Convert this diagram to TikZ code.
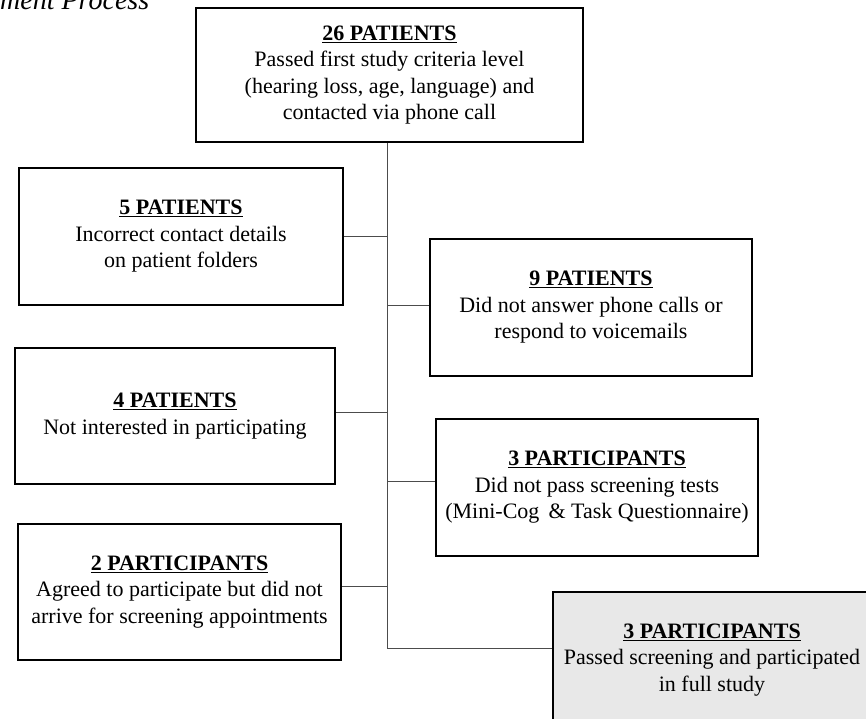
\documentclass[tikz,border=0pt]{standalone}
\usepackage{fontspec}
\setmainfont{Liberation Serif}
\newcommand\boxtitle[1]{\underline{\textbf{#1}}}
\begin{document}
\begin{tikzpicture}[x=1pt,y=-1pt,
  box/.style={draw=black, line width=2pt, align=center, inner sep=0pt,
    font=\fontsize{22}{26.5}\selectfont, minimum height=136pt},
  conn/.style={draw=black!70, line width=1pt}]
\useasboundingbox (0,0) rectangle (866,718);
\node[anchor=base west, inner sep=0pt, font=\itshape\fontsize{28}{32}\selectfont] (cap) at (0,9) {ment Process};
\node[box, minimum width=387pt, minimum height=134pt] (top) at (389.5,75)
  {\boxtitle{26 PATIENTS}\\Passed first study criteria level\\(hearing loss, age, language) and\\contacted via phone call};
\node[box, minimum width=324pt, minimum height=137pt] (b5) at (181,236.5)
  {\boxtitle{5 PATIENTS}\\Incorrect contact details\\on patient folders};
\node[box, minimum width=322pt, minimum height=137pt] (b9) at (591,307.5)
  {\boxtitle{9 PATIENTS}\\Did not answer phone calls or\\respond to voicemails};
\node[box, minimum width=320pt] (b4) at (175,416)
  {\boxtitle{4 PATIENTS}\\Not interested in participating};
\node[box, minimum width=322pt, minimum height=137pt] (b3) at (597,487.5)
  {\boxtitle{3 PARTICIPANTS}\\Did not pass screening tests\\(Mini-Cog \,\& Task Questionnaire)};
\node[box, minimum width=323pt] (b2) at (179.5,592)
  {\boxtitle{2 PARTICIPANTS}\\Agreed to participate but did not\\arrive for screening appointments};
\node[box, fill=black!9, line width=1.6pt, minimum width=318pt] (fin) at (712,660)
  {\boxtitle{3 PARTICIPANTS}\\Passed screening and participated\\in full study};
\coordinate (tx) at (387,0);
\coordinate (fcon) at ([yshift=12pt]fin.west);
\draw[conn] (top.south -| tx) -- (tx |- fcon);
\draw[conn] (b5.east) -- (b5.east -| tx);
\draw[conn] ([yshift=2.5pt]b9.west) -- ([yshift=2.5pt]b9.west -| tx);
\draw[conn] ([yshift=4pt]b4.east) -- ([yshift=4pt]b4.east -| tx);
\draw[conn] ([yshift=6.5pt]b3.west) -- ([yshift=6.5pt]b3.west -| tx);
\draw[conn] ([yshift=6pt]b2.east) -- ([yshift=6pt]b2.east -| tx);
\draw[conn] (fcon) -- (fcon -| tx);
\end{tikzpicture}
\end{document}
